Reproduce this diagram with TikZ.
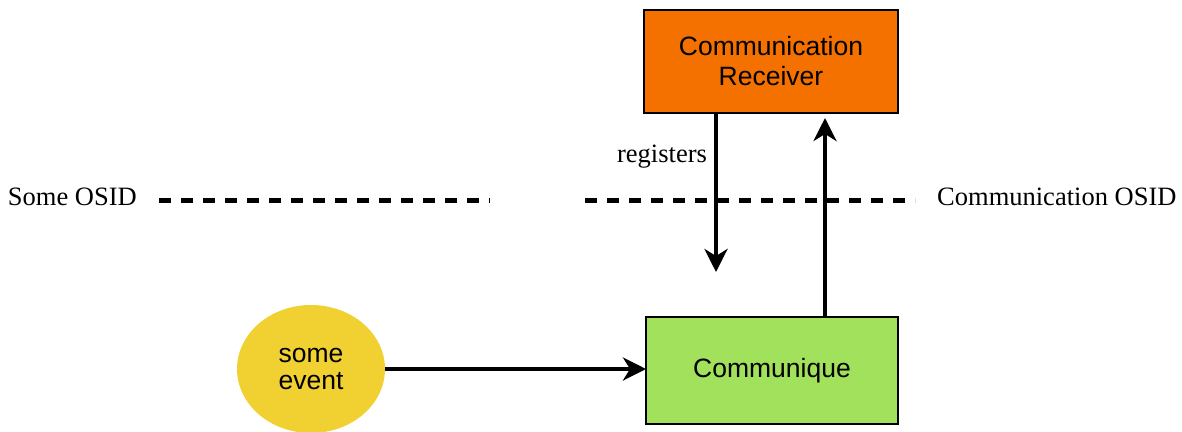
\documentclass[tikz,border=0pt]{standalone}
\usepackage{fontspec}
\setmainfont{Liberation Serif}
\setsansfont{Liberation Sans}
\usetikzlibrary{arrows.meta,shapes.geometric}
\definecolor{recvorange}{HTML}{F47100}
\definecolor{commgreen}{HTML}{A1E15C}
\definecolor{eventyellow}{HTML}{F1D132}
\begin{document}
\begin{tikzpicture}[x=1pt,y=-1pt,
  box/.style={draw=black,line width=2.5pt,inner sep=0pt,outer sep=0pt,align=center,
    font=\sffamily\fontsize{26.5}{30}\selectfont},
  evt/.style={ellipse,fill=eventyellow,inner sep=0pt,outer sep=0pt,align=center,
    font=\sffamily\fontsize{26.5}{27}\selectfont},
  lbl/.style={inner sep=0pt,font=\fontsize{26.5}{30}\selectfont},
  conn/.style={line width=4.7pt,-{Stealth[length=23pt,width=23pt,inset=7pt]}},
  osid/.style={line width=5pt,dash pattern=on 12pt off 10pt}]
\useasboundingbox (0,0) rectangle (1182,431);
\node[box,fill=recvorange,minimum width=254pt,minimum height=103pt] (recv) at (771,61.5) {Communication\\Receiver};
\node[box,fill=commgreen,minimum width=252pt,minimum height=107pt] (comm) at (772,370.5) {Communique};
\node[evt,minimum width=148pt,minimum height=128pt] (event) at (311,369) {some\\event};
\coordinate (l1) at (159,200);
\coordinate (l2) at (490,200);
\coordinate (r1) at (585,200);
\coordinate (r2) at (915,200);
\draw[osid] (l1) -- (l2);
\draw[osid] (r1) -- (r2);
\node[lbl,anchor=east] (someosid) at (137,197) {Some OSID};
\node[lbl,anchor=west] (commosid) at (937,197) {Communication OSID};
\coordinate (downend) at (716,272);
\draw[conn] (recv.south -| downend) -- (downend);
\node[lbl] (reg) at (662,157) {registers};
\draw[conn,shorten >=5pt] (comm.north -| 825,0) -- (recv.south -| 825,0);
\draw[conn] (event.east) -- (event.east -| comm.west);
\end{tikzpicture}
\end{document}
